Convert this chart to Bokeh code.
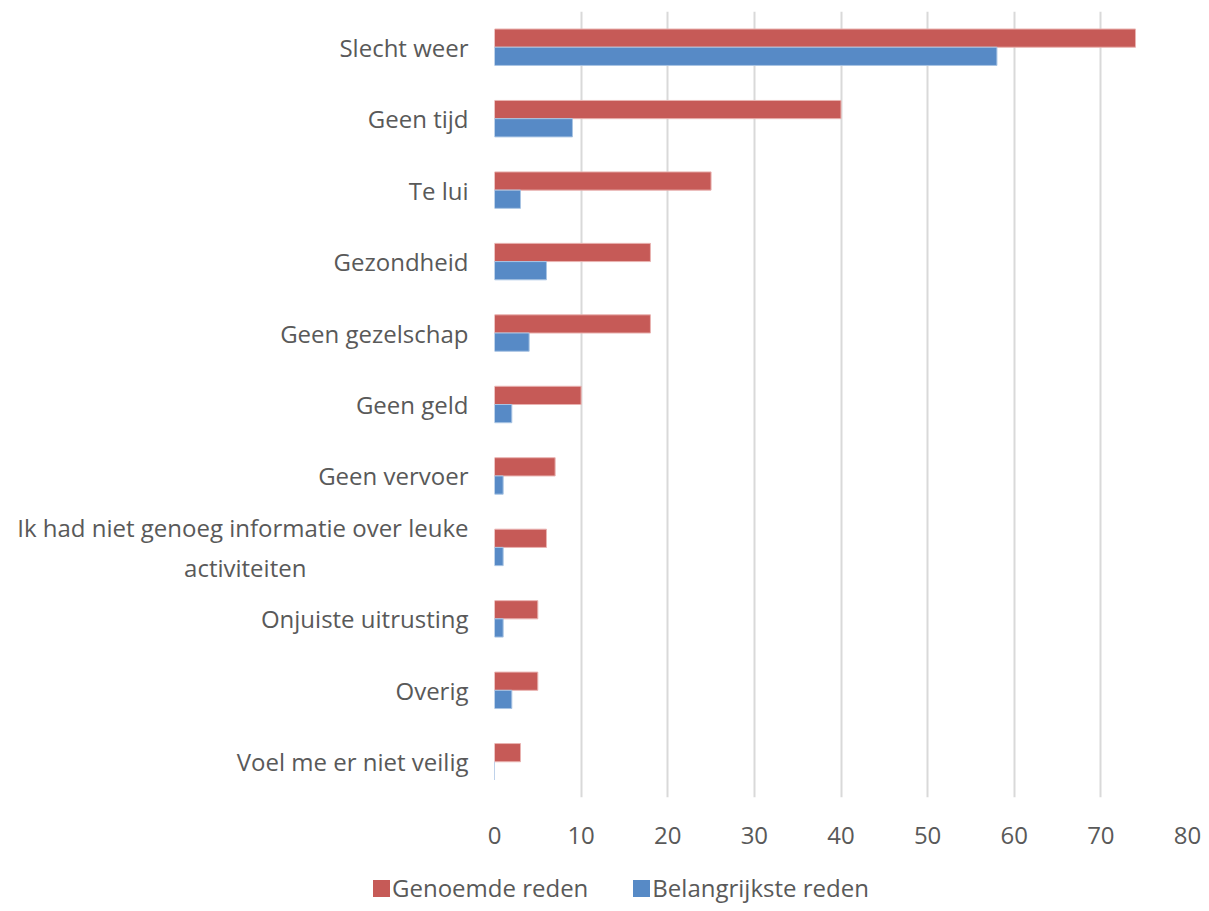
from bokeh.plotting import figure
from bokeh.layouts import column
from bokeh.models import FactorRange, Range1d, FixedTicker, ColumnDataSource, Div
from bokeh.transform import dodge
from bokeh.embed import file_html
from bokeh.resources import INLINE

categories = [
    "Slecht weer",
    "Geen tijd",
    "Te lui",
    "Gezondheid",
    "Geen gezelschap",
    "Geen geld",
    "Geen vervoer",
    "Ik had niet genoeg informatie over leuke activiteiten",
    "Onjuiste uitrusting",
    "Overig",
    "Voel me er niet veilig",
]
genoemde = [74, 40, 25, 18, 18, 10, 7, 6, 5, 5, 3]
belangrijkste = [58, 9, 3, 6, 4, 2, 1, 1, 1, 2, 0]
series_names = ["Genoemde reden", "Belangrijkste reden"]
x_ticks = [0, 10, 20, 30, 40, 50, 60, 70, 80]

# the long category is shown on two lines, second line centred under the first
NBSP = "\u00a0"
wrapped = {
    "Ik had niet genoeg informatie over leuke activiteiten":
        "Ik had niet genoeg informatie over leuke\nactiviteiten" + NBSP * 26,
}
display = [wrapped.get(c, c) for c in categories]

FONT = "Open Sans"
TXT = "#595959"
RED = "#C65A57"
BLUE = "#578AC6"
RED_EDGE = "#E9B3B1"
BLUE_EDGE = "#A9C4E3"
FS = "24px"

src = ColumnDataSource(dict(cat=display, g=genoemde, b=belangrijkste))

p = figure(
    frame_width=693, frame_height=786,
    y_range=FactorRange(*display[::-1], range_padding=0),
    x_range=Range1d(0, 80),
    output_backend="svg", toolbar_location=None,
    min_border_top=11, min_border_right=14, min_border_left=494, min_border_bottom=64,
)
p.outline_line_color = None
p.background_fill_color = "white"
p.border_fill_color = "white"

bw = 0.255
p.hbar(y=dodge("cat", bw / 2, range=p.y_range), right="g", left=0, height=bw,
       source=src, fill_color=RED, line_color=RED_EDGE, line_width=1)
p.hbar(y=dodge("cat", -bw / 2, range=p.y_range), right="b", left=0, height=bw,
       source=src, fill_color=BLUE, line_color=BLUE_EDGE, line_width=1)

p.ygrid.grid_line_color = None
p.xgrid.grid_line_color = "#D9D9D9"
p.xgrid.grid_line_width = 2
p.xaxis.ticker = FixedTicker(ticks=x_ticks)

for ax in (p.xaxis[0], p.yaxis[0]):
    ax.axis_line_color = None
    ax.major_tick_line_color = None
    ax.minor_tick_line_color = None
    ax.major_label_text_font = FONT
    ax.major_label_text_font_size = FS
    ax.major_label_text_color = TXT

p.xaxis.major_label_standoff = 23
p.yaxis.major_label_standoff = 20

# legend strip below the chart (HTML so it can sit left of the plot frame)
def legend_item(name, color, gap_after):
    return (f'<span style="display:inline-flex;align-items:center;margin-right:{gap_after}px;">'
            f'<span style="display:inline-block;width:17px;height:17px;background:{color};'
            f'margin-right:2px;"></span>'
            f'<span>{name}</span></span>')

legend_html = (
    f'<div style="display:flex;align-items:center;height:23px;padding-top:27px;'
    f'padding-left:373px;font-family:\'{FONT}\';font-size:{FS};color:{TXT};'
    f'white-space:nowrap;line-height:1;">'
    + legend_item(series_names[0], RED, 45)
    + legend_item(series_names[1], BLUE, 0)
    + '</div>'
)
legend_div = Div(text=legend_html, width=1201, height=50, margin=(0, 0, 0, 0))

layout = column(p, legend_div, spacing=0)
open("out.html", "w").write(file_html(layout, INLINE))
